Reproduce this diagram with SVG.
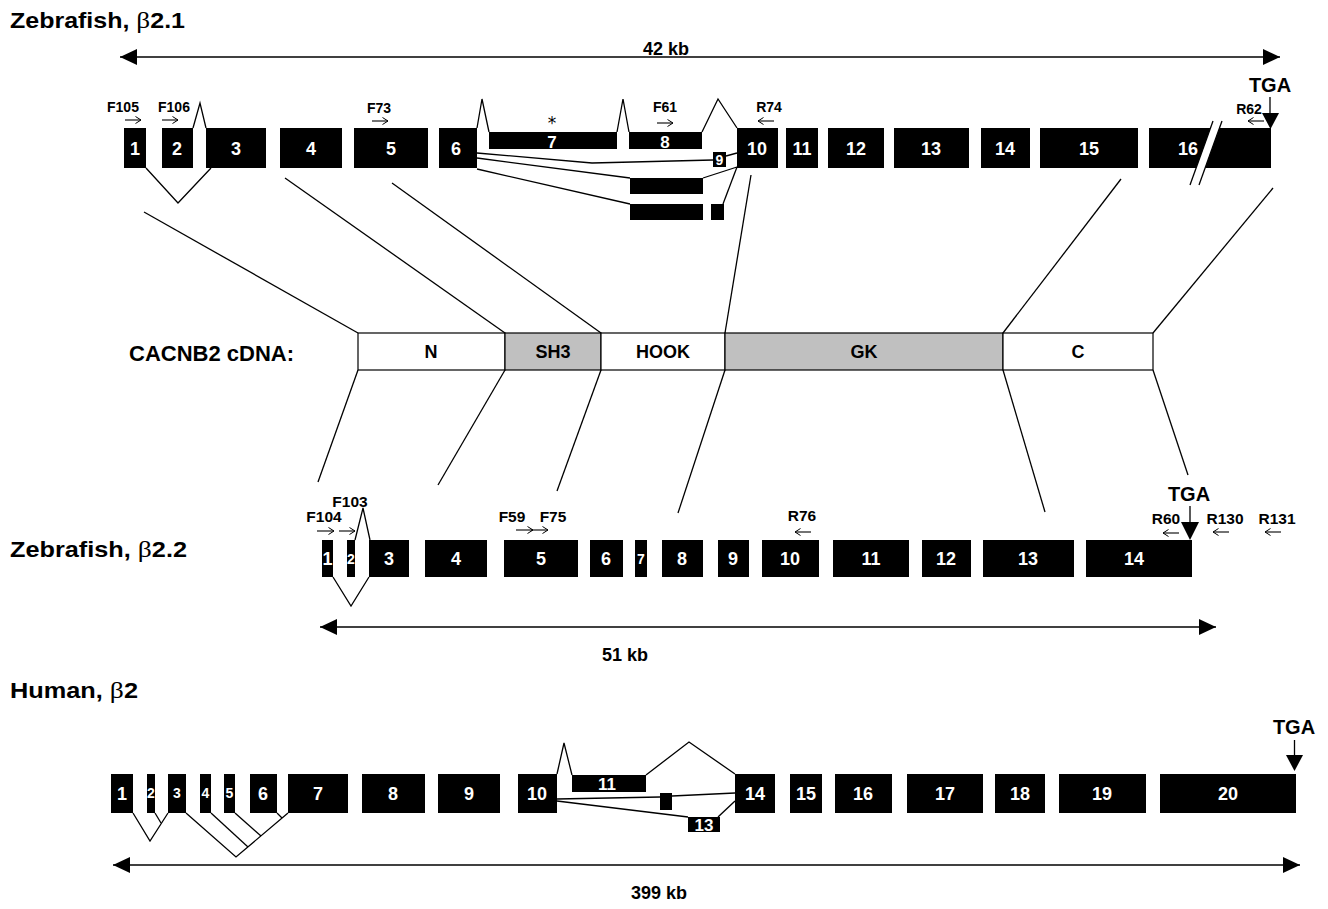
<svg xmlns="http://www.w3.org/2000/svg" width="1328" height="909" viewBox="0 0 1328 909">
<style>
.ex{fill:#000}
.el{fill:#fff;font-family:"Liberation Sans",Arial,sans-serif;font-weight:bold;font-size:18px;text-anchor:middle}
.sm{font-size:14px}
.md{font-size:17px}
.pl{fill:#000;font-family:"Liberation Sans",Arial,sans-serif;font-weight:bold;font-size:14px;text-anchor:middle}
.pl2{font-size:15.5px}
.tga{fill:#000;font-family:"Liberation Sans",Arial,sans-serif;font-weight:bold;font-size:20px;text-anchor:middle}
.ti{fill:#000;font-family:"Liberation Sans",Arial,sans-serif;font-weight:bold;font-size:22px}
.gk{font-family:"Liberation Serif","Times New Roman",serif;font-weight:normal;font-size:24px}
.lb{fill:#000;font-family:"Liberation Sans",Arial,sans-serif;font-weight:bold;font-size:18px;text-anchor:middle}
.ln{stroke:#000;stroke-width:1.3;fill:none}
.pa{stroke:#000;stroke-width:1.1;fill:none;marker-end:url(#open)}
.sb{stroke:#000;stroke-width:1.5;fill:none;marker-start:url(#big);marker-end:url(#big)}
.seg{stroke:#000;stroke-width:1.2}
</style>
<defs>
<marker id="big" markerUnits="userSpaceOnUse" markerWidth="18" markerHeight="16" refX="17" refY="8" orient="auto-start-reverse"><path d="M0,0 L17,8 L0,16 Z" fill="#000"/></marker>
<marker id="open" markerUnits="userSpaceOnUse" markerWidth="8" markerHeight="8" refX="6" refY="4" orient="auto"><path d="M0.5,0.5 L6,4 L0.5,7.5" fill="none" stroke="#000" stroke-width="1"/></marker>
</defs>
<rect width="1328" height="909" fill="#fff"/>

<!-- Titles -->
<text class="ti" x="10" y="28" textLength="175" lengthAdjust="spacingAndGlyphs">Zebrafish, <tspan class="gk">β</tspan>2.1</text>
<text class="ti" x="10" y="557" textLength="177" lengthAdjust="spacingAndGlyphs">Zebrafish, <tspan class="gk">β</tspan>2.2</text>
<text class="ti" x="10" y="698" textLength="128" lengthAdjust="spacingAndGlyphs">Human, <tspan class="gk">β</tspan>2</text>

<!-- Scale bars -->
<g id="scale-bars">
<line class="sb" x1="120" y1="57" x2="1280" y2="57"/>
<text class="lb" x="666" y="55">42 kb</text>
<line class="sb" x1="320" y1="627" x2="1216" y2="627"/>
<text class="lb" x="625" y="661">51 kb</text>
<line class="sb" x1="113" y1="865" x2="1300" y2="865"/>
<text class="lb" x="659" y="899">399 kb</text>
</g>

<!-- Zebrafish b2.1 gene -->
<g id="gene-b21">
<g id="b21-e1"><rect class="ex" x="124" y="128" width="22" height="40"/><text class="el" x="135" y="155">1</text></g>
<g id="b21-e2"><rect class="ex" x="162" y="128" width="31" height="40"/><text class="el" x="177" y="155">2</text></g>
<g id="b21-e3"><rect class="ex" x="206" y="128" width="60" height="40"/><text class="el" x="236" y="155">3</text></g>
<g id="b21-e4"><rect class="ex" x="280" y="128" width="62" height="40"/><text class="el" x="311" y="155">4</text></g>
<g id="b21-e5"><rect class="ex" x="354" y="128" width="74" height="40"/><text class="el" x="391" y="155">5</text></g>
<g id="b21-e6"><rect class="ex" x="439" y="128" width="38" height="40"/><text class="el" x="456" y="155">6</text></g>
<g id="b21-e7"><rect class="ex" x="489" y="132" width="128" height="17"/><text class="el md" x="552" y="147.5">7</text><text x="552" y="129" text-anchor="middle" font-family="DejaVu Sans,sans-serif" font-size="17">*</text></g>
<g id="b21-e8"><rect class="ex" x="629" y="132" width="73" height="17"/><text class="el md" x="665" y="147.5">8</text></g>
<g id="b21-e9"><rect class="ex" x="713" y="152" width="13" height="15"/><text class="el sm" x="719.5" y="165">9</text></g>
<g id="b21-e10"><rect class="ex" x="737" y="128" width="41" height="40"/><text class="el" x="757" y="155">10</text></g>
<g id="b21-e11"><rect class="ex" x="786" y="128" width="32" height="40"/><text class="el" x="802" y="155">11</text></g>
<g id="b21-e12"><rect class="ex" x="828" y="128" width="56" height="40"/><text class="el" x="856" y="155">12</text></g>
<g id="b21-e13"><rect class="ex" x="894" y="128" width="75" height="40"/><text class="el" x="931" y="155">13</text></g>
<g id="b21-e14"><rect class="ex" x="981" y="128" width="49" height="40"/><text class="el" x="1005" y="155">14</text></g>
<g id="b21-e15"><rect class="ex" x="1040" y="128" width="98" height="40"/><text class="el" x="1089" y="155">15</text></g>
<g id="b21-e16"><rect class="ex" x="1149" y="128" width="122" height="40"/><text class="el" x="1188" y="155">16</text>
<polygon points="1213,121 1222,121 1199,185 1190,185" fill="#fff"/>
<line x1="1213" y1="121" x2="1190" y2="185" stroke="#000" stroke-width="1.3"/>
<line x1="1222" y1="121" x2="1199" y2="185" stroke="#000" stroke-width="1.3"/></g>
<g id="b21-alt1"><rect class="ex" x="630" y="178" width="73" height="16"/></g>
<g id="b21-alt2"><rect class="ex" x="630" y="204" width="73" height="16"/><rect class="ex" x="711" y="204" width="13" height="16"/></g>
<g id="b21-primers">
<text class="pl" x="123" y="112">F105</text><line class="pa" x1="125" y1="120" x2="141" y2="120"/>
<text class="pl" x="174" y="112">F106</text><line class="pa" x1="162" y1="120" x2="178" y2="120"/>
<text class="pl" x="379" y="113">F73</text><line class="pa" x1="372" y1="121" x2="388" y2="121"/>
<text class="pl" x="665" y="112">F61</text><line class="pa" x1="657" y1="123" x2="673" y2="123"/>
<text class="pl" x="769" y="112">R74</text><line class="pa" x1="774" y1="121" x2="758" y2="121"/>
<text class="pl" x="1249" y="114">R62</text><line class="pa" x1="1264" y1="121" x2="1248" y2="121"/>
</g>
<g id="b21-tga"><text class="tga" x="1270" y="92">TGA</text>
<line x1="1270" y1="97" x2="1270" y2="114" stroke="#000" stroke-width="1.3"/>
<polygon points="1262,113 1279,113 1270.5,129" fill="#000"/></g>
</g>

<!-- CACNB2 cDNA -->
<g id="cdna">
<text class="ti" x="129" y="361">CACNB2 cDNA:</text>
<g id="cdna-N"><rect class="seg" x="358" y="333" width="147" height="37" fill="#fff"/><text class="lb" x="431" y="358">N</text></g>
<g id="cdna-SH3"><rect class="seg" x="505" y="333" width="96" height="37" fill="#c0c0c0"/><text class="lb" x="553" y="358">SH3</text></g>
<g id="cdna-HOOK"><rect class="seg" x="601" y="333" width="124" height="37" fill="#fff"/><text class="lb" x="663" y="358">HOOK</text></g>
<g id="cdna-GK"><rect class="seg" x="725" y="333" width="278" height="37" fill="#c0c0c0"/><text class="lb" x="864" y="358">GK</text></g>
<g id="cdna-C"><rect class="seg" x="1003" y="333" width="150" height="37" fill="#fff"/><text class="lb" x="1078" y="358">C</text></g>
</g>

<!-- Zebrafish b2.2 gene -->
<g id="gene-b22">
<g id="b22-e1"><rect class="ex" x="322" y="540" width="11" height="37"/><text class="el" x="327.5" y="565">1</text></g>
<g id="b22-e2"><rect class="ex" x="347" y="540" width="8" height="37"/><text class="el sm" x="351" y="564">2</text></g>
<g id="b22-e3"><rect class="ex" x="369" y="540" width="40" height="37"/><text class="el" x="389" y="565">3</text></g>
<g id="b22-e4"><rect class="ex" x="425" y="540" width="62" height="37"/><text class="el" x="456" y="565">4</text></g>
<g id="b22-e5"><rect class="ex" x="504" y="540" width="74" height="37"/><text class="el" x="541" y="565">5</text></g>
<g id="b22-e6"><rect class="ex" x="590" y="540" width="33" height="37"/><text class="el" x="606" y="565">6</text></g>
<g id="b22-e7"><rect class="ex" x="635" y="540" width="12" height="37"/><text class="el sm" x="641" y="564">7</text></g>
<g id="b22-e8"><rect class="ex" x="662" y="540" width="41" height="37"/><text class="el" x="682" y="565">8</text></g>
<g id="b22-e9"><rect class="ex" x="718" y="540" width="31" height="37"/><text class="el" x="733" y="565">9</text></g>
<g id="b22-e10"><rect class="ex" x="762" y="540" width="57" height="37"/><text class="el" x="790" y="565">10</text></g>
<g id="b22-e11"><rect class="ex" x="833" y="540" width="76" height="37"/><text class="el" x="871" y="565">11</text></g>
<g id="b22-e12"><rect class="ex" x="922" y="540" width="49" height="37"/><text class="el" x="946" y="565">12</text></g>
<g id="b22-e13"><rect class="ex" x="983" y="540" width="91" height="37"/><text class="el" x="1028" y="565">13</text></g>
<g id="b22-e14"><rect class="ex" x="1086" y="540" width="106" height="37"/><text class="el" x="1134" y="565">14</text></g>
<g id="b22-primers">
<text class="pl pl2" x="324" y="522">F104</text><line class="pa" x1="317" y1="531" x2="334" y2="531"/>
<text class="pl pl2" x="350" y="507">F103</text><line class="pa" x1="339" y1="531" x2="355" y2="531"/>
<text class="pl pl2" x="512" y="522">F59</text><line class="pa" x1="516" y1="530" x2="533" y2="530"/>
<text class="pl pl2" x="553" y="522">F75</text><line class="pa" x1="531" y1="530" x2="548" y2="530"/>
<text class="pl pl2" x="802" y="521">R76</text><line class="pa" x1="811" y1="532" x2="795" y2="532"/>
<text class="pl pl2" x="1166" y="524">R60</text><line class="pa" x1="1179" y1="533" x2="1163" y2="533"/>
<text class="pl pl2" x="1225" y="524">R130</text><line class="pa" x1="1229" y1="532" x2="1213" y2="532"/>
<text class="pl pl2" x="1277" y="524">R131</text><line class="pa" x1="1281" y1="532" x2="1265" y2="532"/>
</g>
<g id="b22-tga"><text class="tga" x="1189" y="501">TGA</text>
<line x1="1190" y1="506" x2="1190" y2="523" stroke="#000" stroke-width="1.3"/>
<polygon points="1181,522 1199,522 1190,540" fill="#000"/></g>
</g>

<!-- Human b2 gene -->
<g id="gene-human">
<g id="h-e1"><rect class="ex" x="111" y="774" width="22" height="39"/><text class="el" x="122" y="800">1</text></g>
<g id="h-e2"><rect class="ex" x="147" y="774" width="8" height="39"/><text class="el sm" x="151" y="798">2</text></g>
<g id="h-e3"><rect class="ex" x="168" y="774" width="18" height="39"/><text class="el sm" x="177" y="798">3</text></g>
<g id="h-e4"><rect class="ex" x="200" y="774" width="11" height="39"/><text class="el sm" x="205.5" y="798">4</text></g>
<g id="h-e5"><rect class="ex" x="224" y="774" width="11" height="39"/><text class="el sm" x="229.5" y="798">5</text></g>
<g id="h-e6"><rect class="ex" x="250" y="774" width="27" height="39"/><text class="el" x="263" y="800">6</text></g>
<g id="h-e7"><rect class="ex" x="288" y="774" width="60" height="39"/><text class="el" x="318" y="800">7</text></g>
<g id="h-e8"><rect class="ex" x="362" y="774" width="63" height="39"/><text class="el" x="393" y="800">8</text></g>
<g id="h-e9"><rect class="ex" x="438" y="774" width="62" height="39"/><text class="el" x="469" y="800">9</text></g>
<g id="h-e10"><rect class="ex" x="518" y="774" width="39" height="39"/><text class="el" x="537" y="800">10</text></g>
<g id="h-e11"><rect class="ex" x="572" y="775" width="74" height="17"/><text class="el md" x="607" y="790">11</text></g>
<g id="h-e12"><rect class="ex" x="660" y="793" width="12" height="17"/></g>
<g id="h-e13"><rect class="ex" x="688" y="817" width="32" height="15"/><text class="el md" x="704" y="831">13</text></g>
<g id="h-e14"><rect class="ex" x="735" y="774" width="40" height="39"/><text class="el" x="755" y="800">14</text></g>
<g id="h-e15"><rect class="ex" x="790" y="774" width="32" height="39"/><text class="el" x="806" y="800">15</text></g>
<g id="h-e16"><rect class="ex" x="835" y="774" width="57" height="39"/><text class="el" x="863" y="800">16</text></g>
<g id="h-e17"><rect class="ex" x="907" y="774" width="76" height="39"/><text class="el" x="945" y="800">17</text></g>
<g id="h-e18"><rect class="ex" x="995" y="774" width="50" height="39"/><text class="el" x="1020" y="800">18</text></g>
<g id="h-e19"><rect class="ex" x="1059" y="774" width="87" height="39"/><text class="el" x="1102" y="800">19</text></g>
<g id="h-e20"><rect class="ex" x="1160" y="774" width="136" height="39"/><text class="el" x="1228" y="800">20</text></g>
<g id="h-tga"><text class="tga" x="1294" y="734">TGA</text>
<line x1="1294.5" y1="740" x2="1294.5" y2="756" stroke="#000" stroke-width="1.3"/>
<polygon points="1286,755 1303,755 1294.5,771" fill="#000"/></g>
</g>

<!-- Connectors: splicing and domain mapping lines -->
<g id="connectors">
<polyline class="ln" points="146,168 178,203 211,168"/>
<polyline class="ln" points="193,128 200,103 206,128"/>
<polyline class="ln" points="477,128 482,99 489,132"/>
<polyline class="ln" points="617,132 623,99 629,132"/>
<polyline class="ln" points="702,132 718,99 737,128"/>
<polyline class="ln" points="477,153 592,163 713,160"/>
<line class="ln" x1="726" y1="156" x2="737" y2="153"/>
<line class="ln" x1="477" y1="158" x2="630" y2="178"/>
<line class="ln" x1="703" y1="178" x2="737" y2="167"/>
<line class="ln" x1="477" y1="169" x2="630" y2="204"/>
<line class="ln" x1="723" y1="204" x2="737" y2="167"/>
<line class="ln" x1="144" y1="212" x2="358" y2="333"/>
<line class="ln" x1="285" y1="178" x2="505" y2="333"/>
<line class="ln" x1="392" y1="183" x2="601" y2="333"/>
<line class="ln" x1="751" y1="175" x2="725" y2="333"/>
<line class="ln" x1="1121" y1="179" x2="1003" y2="333"/>
<line class="ln" x1="1273" y1="188" x2="1153" y2="333"/>
<line class="ln" x1="358" y1="370" x2="318" y2="482"/>
<line class="ln" x1="505" y1="370" x2="438" y2="485"/>
<line class="ln" x1="601" y1="370" x2="557" y2="491"/>
<line class="ln" x1="725" y1="370" x2="678" y2="513"/>
<line class="ln" x1="1003" y1="370" x2="1045" y2="512"/>
<line class="ln" x1="1153" y1="370" x2="1188" y2="475"/>
<polyline class="ln" points="333,577 351,606 369,577"/>
<polyline class="ln" points="355,540 363,508 370,540"/>
<polyline class="ln" points="133,813 150,841 168,813"/>
<line class="ln" x1="155" y1="813" x2="161" y2="823"/>
<polyline class="ln" points="186,813 236,857 288,813"/>
<line class="ln" x1="211" y1="813" x2="248" y2="847"/>
<line class="ln" x1="235" y1="813" x2="261" y2="836"/>
<line class="ln" x1="277" y1="813" x2="282" y2="818"/>
<polyline class="ln" points="557,774 564,743 572,775"/>
<polyline class="ln" points="646,775 689,742 735,774"/>
<line class="ln" x1="557" y1="799" x2="660" y2="797"/>
<line class="ln" x1="672" y1="796" x2="735" y2="793"/>
<line class="ln" x1="557" y1="801" x2="688" y2="817"/>
<line class="ln" x1="718" y1="817" x2="735" y2="801"/>
</g>
</svg>
